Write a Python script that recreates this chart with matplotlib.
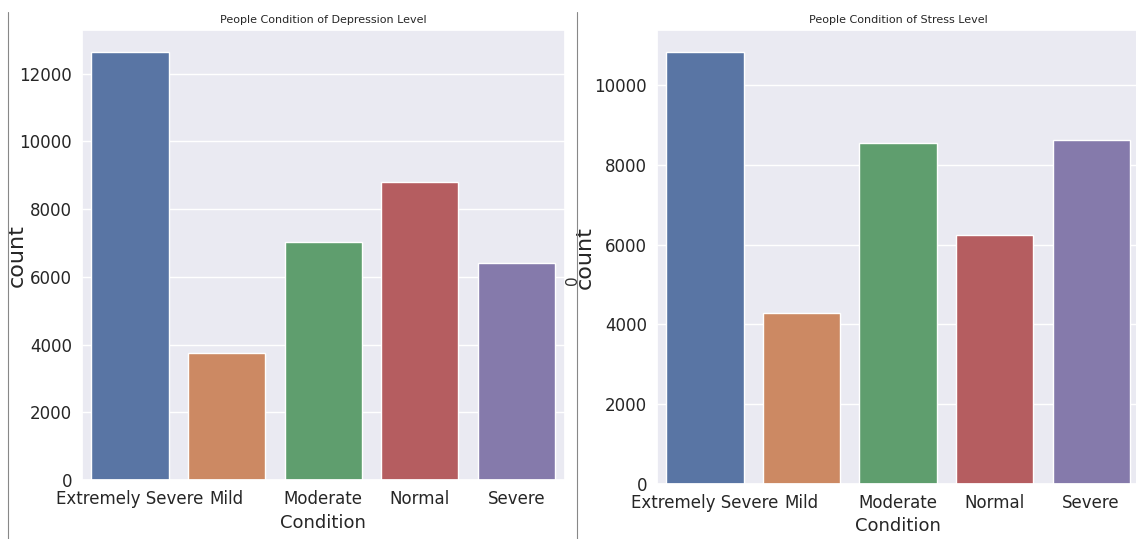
import matplotlib.pyplot as plt
import seaborn as sns
from matplotlib.lines import Line2D

levels = ["Extremely Severe", "Mild", "Moderate", "Normal", "Severe"]
depression_counts = [12650, 3750, 7040, 8810, 6420]
stress_counts = [10830, 4290, 8550, 6240, 8620]

sns.set_theme(style="darkgrid")
plt.rcParams['font.family'] = ['DejaVu Sans']
palette = sns.color_palette("deep", 5)

fig = plt.figure(figsize=(11.36, 5.39), dpi=100)
ax1 = fig.add_axes([0.072, 0.109, 0.425, 0.835])
ax2 = fig.add_axes([0.578, 0.102, 0.425, 0.842])

for ax, vals, title in [(ax1, depression_counts, "People Condition of Depression Level"),
                        (ax2, stress_counts, "People Condition of Stress Level")]:
    sns.barplot(x=levels, y=vals, hue=levels, palette=palette, legend=False, ax=ax, width=0.8)
    ax.set_title(title, fontsize=8, pad=5)
    ax.set_xlabel("Condition", fontsize=13, labelpad=4)
    ax.set_ylabel("count", fontsize=16)
    ax.tick_params(axis="both", labelsize=12, pad=1)
    ax.set_ylim(0, max(vals) * 1.05)

ax1.set_yticks(range(0, 12001, 2000))
ax2.set_yticks(range(0, 10001, 2000))
ax1.yaxis.set_label_coords(-0.115, 0.5)
ax2.yaxis.set_label_coords(-0.128, 0.5)

# separator lines from the screenshot
for x in [0.007, 0.508]:
    fig.add_artist(Line2D([x, x], [0.0, 0.978], transform=fig.transFigure, color="#888888", lw=0.8))
fig.text(0.504, 0.48, "0", fontsize=11, rotation=90, ha="center", va="center", color="#333333")

fig.savefig("out.png", dpi=100)
